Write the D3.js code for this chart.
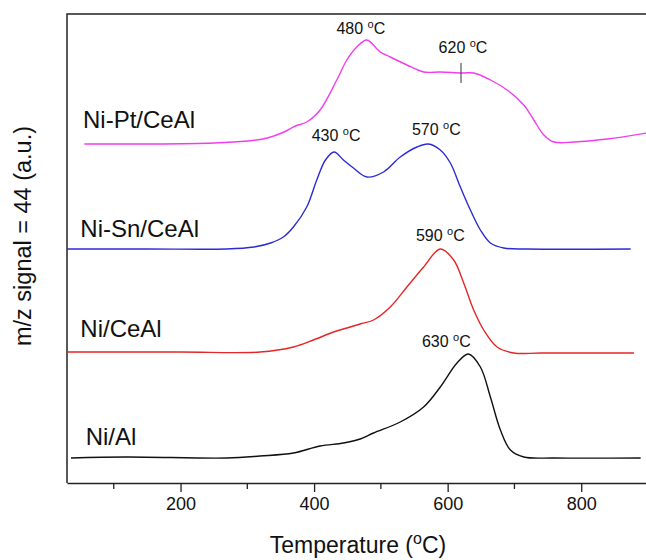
<!DOCTYPE html>
<html>
<head>
<meta charset="utf-8">
<script src="https://cdn.jsdelivr.net/npm/d3@7"></script>
<style>
  body { margin: 0; background: #fff; }
  text { font-family: "Liberation Sans", Arial, sans-serif; fill: #111; }
</style>
</head>
<body>
<div id="chart"></div>
<script>
// TPO profiles, m/z = 44 signal (arbitrary units, curves offset)
const niPtCeAl = [[56,339],[150,339],[250,340],[300,342],[330,345],[355,351],[372,357],[389,361],[409,373],[434,403],[449,423],[464,436],[479,443],[499,431],[514,426],[539,418],[564,411],[589,411],[622,410],[639,410],[664,403],[689,393],[714,378],[729,363],[744,348],[759,341],[789,341],[839,344],[898,350]];
const niSnCeAl = [[30,234],[150,234],[269,234],[310,236],[335,240],[354,246],[369,256],[389,276],[404,303],[417,323],[430,331],[444,323],[459,315],[479,306],[504,311],[529,326],[554,336],[571,339],[589,333],[604,320],[619,296],[634,273],[649,253],[664,240],[684,235],[720,234],[874,234]];
const niCeAl = [[30,131],[200,131],[319,131],[369,136],[399,143],[429,151],[449,155],[469,159],[489,163],[514,176],[539,196],[564,216],[589,234],[609,223],[624,200],[639,173],[654,153],[674,136],[699,130],[740,130],[879,130]];
const niAl = [[36,25],[119,26],[269,25],[319,27],[369,30],[409,37],[444,40],[469,44],[489,50],[529,61],[564,76],[589,96],[614,120],[631,129],[649,116],[664,86],[679,53],[694,33],[714,26],[760,25],[889,25]];

const seriesNames = ["Ni-Pt/CeAl", "Ni-Sn/CeAl", "Ni/CeAl", "Ni/Al"];
const seriesData = [niPtCeAl, niSnCeAl, niCeAl, niAl];
const seriesColors = ["#f23cf0", "#2b2bd6", "#e52626", "#111111"];
// name label anchor [T, a.u.]
const nameAnchors = [[54,355],[50,246],[50,146],[58,38]];

// peak annotations: text, [T, a.u.]
const peakLabels = ["480", "620", "430", "570", "590", "630"];
const peakAnchors = [[470,449],[623,430],[433,342],[583,348],[589,242],[598,136]];
// small vertical marker at 620 on the Ni-Pt curve
const markT = 620, markLo = 400, markHi = 420;

const xTicks = [200, 400, 600, 800];
const xMinor = [100, 300, 500, 700];

const svgWidth = 646, svgHeight = 560;
const margin = { top: 14, right: -2, bottom: 77, left: 67 };
const width = svgWidth - margin.left - margin.right;
const height = svgHeight - margin.top - margin.bottom;

const svg = d3.select("#chart").append("svg")
  .attr("width", svgWidth)
  .attr("height", svgHeight);

const g = svg.append("g")
  .attr("transform", `translate(${margin.left}, ${margin.top})`);

const x = d3.scaleLinear().domain([30, 900]).range([0, width]);
const y = d3.scaleLinear().domain([0, 469]).range([height, 0]);

// frame (top + left, right edge is off the page)
g.append("path")
  .attr("d", `M0,${height}V0H${width}`)
  .attr("fill", "none")
  .attr("stroke", "#222")
  .attr("stroke-width", 1.5);

// bottom axis
const bottomAxis = d3.axisBottom(x).tickValues(xTicks).tickSize(9).tickSizeOuter(0).tickPadding(5).tickFormat(d3.format("d"));
const ax = g.append("g")
  .attr("transform", `translate(0, ${height})`)
  .call(bottomAxis);
ax.select(".domain").attr("stroke", "#222").attr("stroke-width", 1.5);
ax.selectAll(".tick line").attr("stroke", "#222").attr("stroke-width", 1.3);
ax.selectAll(".tick text").attr("font-size", 18).attr("font-family", "Liberation Sans, Arial, sans-serif").attr("fill", "#111");

g.append("g")
  .attr("transform", `translate(0, ${height})`)
  .selectAll("line")
  .data(xMinor)
  .enter()
  .append("line")
  .attr("x1", d => x(d)).attr("x2", d => x(d))
  .attr("y1", 0).attr("y2", 6)
  .attr("stroke", "#222")
  .attr("stroke-width", 1.3);

// curves
const line = d3.line()
  .x(d => x(d[0]))
  .y(d => y(d[1]))
  .curve(d3.curveCatmullRom.alpha(0.5));

g.selectAll("path.trace")
  .data(seriesData)
  .enter()
  .append("path")
  .attr("class", "trace")
  .attr("d", line)
  .attr("fill", "none")
  .attr("stroke", (d, i) => seriesColors[i])
  .attr("stroke-width", 1.4);

// series names
g.selectAll("text.name")
  .data(seriesNames)
  .enter()
  .append("text")
  .attr("class", "name")
  .attr("x", (d, i) => x(nameAnchors[i][0]))
  .attr("y", (d, i) => y(nameAnchors[i][1]))
  .attr("font-size", 24)
  .text(d => d);

// peak labels
const pk = g.selectAll("text.peak")
  .data(peakLabels)
  .enter()
  .append("text")
  .attr("class", "peak")
  .attr("x", (d, i) => x(peakAnchors[i][0]))
  .attr("y", (d, i) => y(peakAnchors[i][1]))
  .attr("text-anchor", "middle")
  .attr("font-size", 16);
pk.append("tspan").text(d => d + " ");
pk.append("tspan").attr("font-size", 11).attr("dy", -6).text("o");
pk.append("tspan").attr("dy", 6).text("C");

g.append("line")
  .attr("x1", x(markT)).attr("x2", x(markT))
  .attr("y1", y(markLo)).attr("y2", y(markHi))
  .attr("stroke", "#333")
  .attr("stroke-width", 1);

// axis titles
const xt = svg.append("text")
  .attr("x", 358)
  .attr("y", 553)
  .attr("text-anchor", "middle")
  .attr("font-size", 23);
xt.append("tspan").text("Temperature (");
xt.append("tspan").attr("font-size", 16).attr("dy", -9).text("o");
xt.append("tspan").attr("dy", 9).text("C)");

svg.append("text")
  .attr("transform", "translate(31, 236) rotate(-90)")
  .attr("text-anchor", "middle")
  .attr("font-size", 23.5)
  .text("m/z signal = 44 (a.u.)");
</script>
</body>
</html>
